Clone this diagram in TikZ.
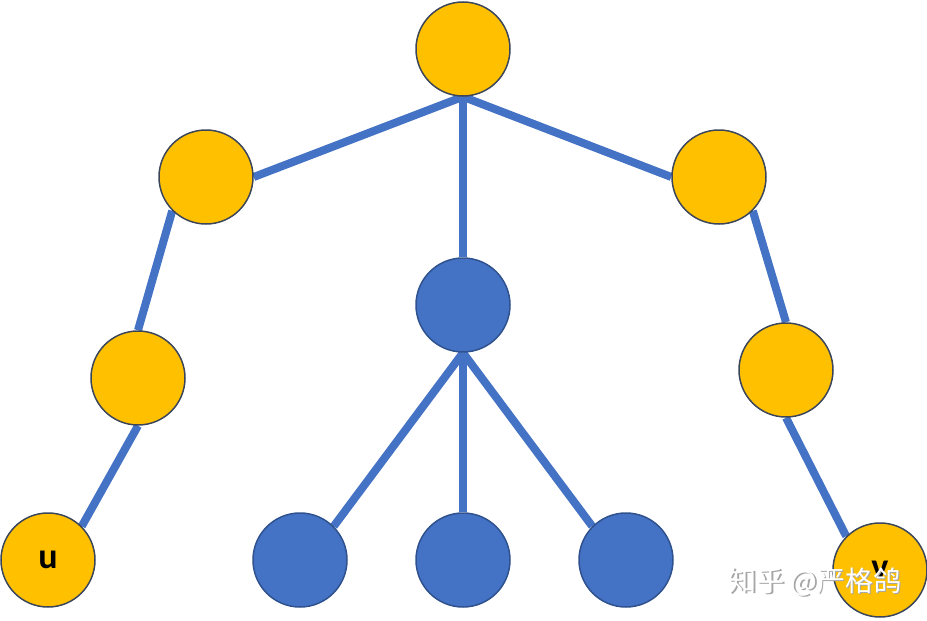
\documentclass[tikz,border=0pt]{standalone}
\usepackage{fontspec}
\setsansfont{Carlito}
\newfontfamily\cjk{Noto Sans CJK SC}
\usetikzlibrary{positioning, backgrounds}

\definecolor{edgeblue}{RGB}{68,114,196}
\definecolor{gold}{RGB}{255,192,0}
\definecolor{goldline}{RGB}{60,70,90}
\definecolor{blueline}{RGB}{47,82,143}

\tikzset{
    goldnode/.style={circle, draw=goldline, fill=gold, line width=1.5pt, minimum size=94pt, inner sep=0pt,
        font=\sffamily\bfseries\fontsize{36}{36}\selectfont},
    bluenode/.style={circle, draw=blueline, fill=edgeblue, line width=1.5pt, minimum size=94pt, inner sep=0pt},
    edge/.style={draw=edgeblue, line width=8pt}
}

\begin{document}
\begin{tikzpicture}[on grid]

    \useasboundingbox (0pt,0pt) rectangle (927pt,-621pt);

    %-----Nodes-----
    % Root
    \node [goldnode] (root) at (463pt,-49pt) {};

    % Left branch
    \node [goldnode, below left=128pt and 257pt of root] (left1) {};
    \node [goldnode, below left=201pt and 68pt of left1] (left2) {};
    \node [goldnode, below left=182pt and 90pt of left2] (u) {\raisebox{-3pt}{u}};

    % Right branch
    \node [goldnode, below right=128pt and 256pt of root] (right1) {};
    \node [goldnode, below right=193pt and 67pt of right1] (right2) {};
    \node [goldnode, below right=200pt and 94pt of right2] (v) {v};

    % Middle (blue) subtree
    \node [bluenode, below=256pt of root] (mid) {};
    \node [bluenode, below left=255pt and 163pt of mid] (leafa) {};
    \node [bluenode, below=255pt of mid] (leafb) {};
    \node [bluenode, below right=255pt and 163pt of mid] (leafc) {};

    %-----Edges-----
    \begin{scope}[on background layer]
        \draw[edge] (root.south) -- (left1.east);
        \draw[edge] (root.south) -- (right1.west);
        \draw[edge] (root.south) -- (mid.north);

        \draw[edge] (left1.south west) -- (left2.north);
        \draw[edge] (left2.south) -- (u.north east);

        \draw[edge] (right1.south east) -- (right2.north);
        \draw[edge] (right2.south) -- (v.north west);

        \draw[edge] (mid.south) -- (leafa.north east);
        \draw[edge] (mid.south) -- (leafb.north);
        \draw[edge] (mid.south) -- (leafc.north west);
    \end{scope}

    % Watermark
    \node [text=black!35, font=\cjk\fontsize{28}{28}\selectfont] (markshadow) at (816.5pt,-583.5pt) {知乎 @严格鸽};
    \node [text=white, font=\cjk\fontsize{28}{28}\selectfont] (mark) at (815pt,-582pt) {知乎 @严格鸽};

\end{tikzpicture}
\end{document}
